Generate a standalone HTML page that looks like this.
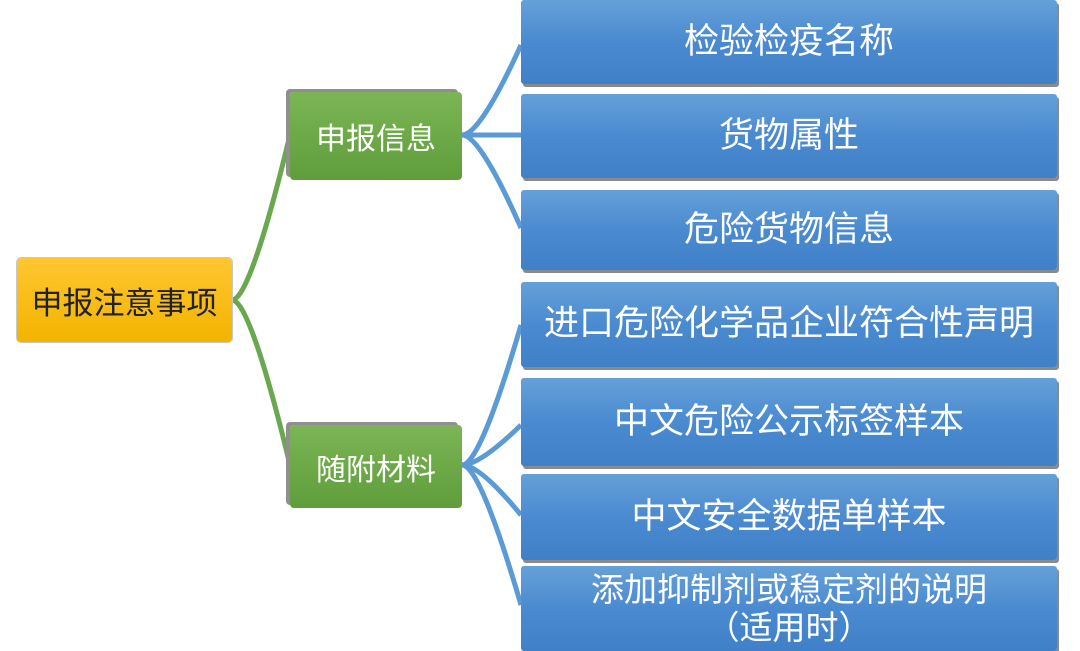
<!DOCTYPE html>
<html><head><meta charset="utf-8"><style>
body{margin:0;width:1080px;height:651px;background:#fff;position:relative;overflow:hidden;font-family:"Liberation Sans","Noto Sans CJK SC",sans-serif}
.b{position:absolute;left:521px;width:536px;color:#fff;font-size:35px;display:flex;align-items:center;justify-content:center;text-align:center;line-height:1.15;
background:linear-gradient(#65a0d8,#4a8ad0 50%,#3f80c8);box-shadow:2px 3px 0 #8a8a8a;border-radius:3px}
.g{position:absolute;left:290px;width:172px;color:#fff;font-size:30px;display:flex;align-items:center;justify-content:center;background:linear-gradient(#7cb555,#5f9d3b);box-shadow:-4px -3px 0 #8f8f8f;border-radius:4px}
.y{position:absolute;left:17px;top:258px;width:215px;height:84px;color:#222;font-size:31px;display:flex;align-items:center;justify-content:center;background:linear-gradient(#ffc631,#f2b400);border-radius:4px;box-shadow:0 0 0 1px #c8c8c8}
svg{position:absolute;left:0;top:0}
</style></head><body>
<svg width="1080" height="651">
<g fill="none" stroke-width="5">
<path d="M232 300 Q250 300 290 135" stroke="#6aa84f"/>
<path d="M232 300 Q250 300 290 465" stroke="#6aa84f"/>
<g stroke="#5b9bd5">
<path d="M462 135 Q480 135 521 45"/>
<path d="M462 135 L521 135"/>
<path d="M462 135 Q480 135 521 228"/>
<path d="M462 465 Q480 465 521 325"/>
<path d="M462 465 Q480 465 521 425"/>
<path d="M462 465 Q480 465 521 515"/>
<path d="M462 465 Q480 465 521 605"/>
</g></g></svg>
<div class="y">申报注意事项</div>
<div class="g" style="top:92px;height:88px">申报信息</div>
<div class="g" style="top:425px;height:83px">随附材料</div>
<div class="b" style="top:0;height:84px">检验检疫名称</div>
<div class="b" style="top:94px;height:84px">货物属性</div>
<div class="b" style="top:190px;height:80px">危险货物信息</div>
<div class="b" style="top:282px;height:85px">进口危险化学品企业符合性声明</div>
<div class="b" style="top:378px;height:88px">中文危险公示标签样本</div>
<div class="b" style="top:474px;height:86px">中文安全数据单样本</div>
<div class="b" style="top:566px;height:85px;font-size:33px">添加抑制剂或稳定剂的说明<br>（适用时）</div>
</body></html>
